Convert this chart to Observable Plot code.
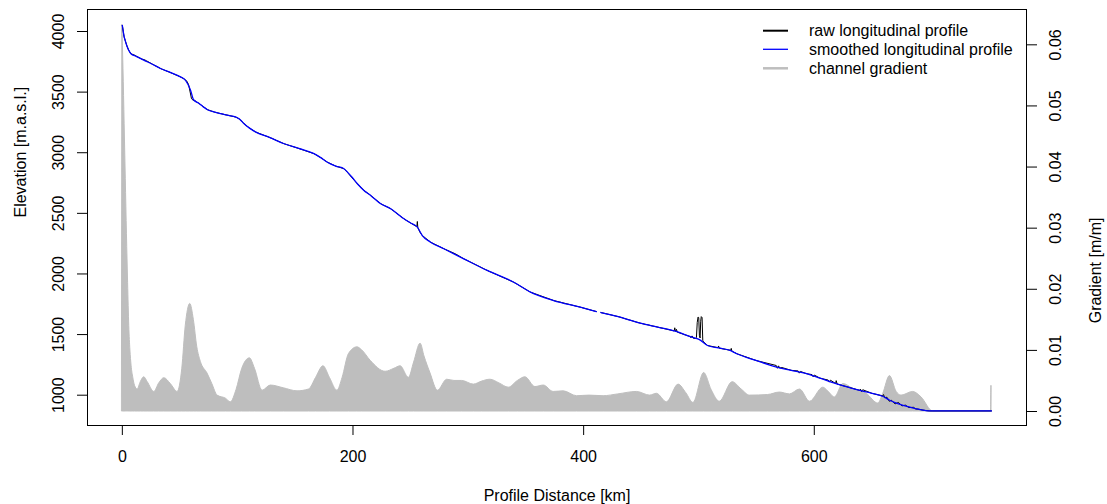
<!DOCTYPE html>
<html><head><meta charset="utf-8">
<script src="https://cdn.jsdelivr.net/npm/d3@7"></script>
<script src="https://cdn.jsdelivr.net/npm/@observablehq/plot@0.6"></script>
<style>
body{margin:0;background:#fff;font-family:"Liberation Sans",Arial,sans-serif;}
#wrap{position:relative;width:1107px;height:504px;overflow:hidden;}
#legend{position:absolute;left:0;top:0;}
</style></head><body><div id="wrap"></div>
<script>
// ---- data ----
const smoothKm   = [0,0.8,1.5,2.5,4,5.5,7.5,12,19,26,33.5,42,50.8,54,56.6,59,61.8,66,70,73.9,80,85.5,92,98.4,102,105.6,110,115.8,128,140.3,153,166.2,172,177.8,185,192.2,195.2,199,203.8,209.5,215.3,224.1,232.7,244.2,250,255.8,260.1,267.3,278.8,296.1,316.4,339.4,353.9,374,397.1,411,413,415,430,449.1,465,479.4,493.8,500,507.4,517,527,532.8,550,567.4,580,593.4,605,619.4,630,639.6,650,659.8,665,671.3,677,682.9,690,696,700.2,753.6];
const smoothElev = [4050,4000,3960,3925,3880,3845,3817,3795,3762,3730,3693,3660,3624,3605,3569,3520,3437,3410,3380,3355,3335,3322,3308,3294,3275,3239,3205,3170,3125,3074,3035,2992,2960,2922,2890,2868,2840,2800,2744,2689,2648,2579,2538,2455,2420,2386,2317,2262,2208,2125,2029,1932,1850,1781,1726,1690,NaN,1682,1648,1594,1560,1528,1479,1460,1410,1390,1369,1342,1285,1231,1205,1177,1140,1094,1065,1039,1015,989,960,934,915,901,885,874,870,870];

const rawKm   = [0,0.8,1.5,2.5,4,5.5,7.5,10,12,17,19,21,26,33.5,42,50.8,54,56,57.5,60,61.5,63,64.5,66,70,73.9,80,85.5,92,98.4,102,105.6,110,115.8,128,140.3,153,166.2,172,177.8,185,192.2,195.2,199,203.8,209.5,215.3,224.1,232.7,244.2,250,255.4,255.8,256.2,258,260.1,267.3,278.8,289,292,296.1,316.4,339.4,353.9,374,397.1,411,413,415,430,449.1,465,478.5,479,479.6,480.5,481.2,492,493,494,495,497,497.8,498.5,499.2,499.8,500.4,501,501.5,502,502.7,503.3,504,507.4,516.5,517,517.5,523,527.5,528,528.5,532.8,550,567,568,569,570,572,580,586,587,588,593.4,598,599,600,605,612,613,614,618.5,619,619.8,630,639.6,640,641,642,650,659,660,661,663,665,667,670,673,676,679,682,686,688,690,696,700.2,753.6];
const rawElev = [4050,4000,3958,3926,3880,3847,3815,3808,3797,3772,3768,3758,3731,3693,3660,3624,3606,3590,3560,3445,3432,3430,3418,3410,3381,3355,3335,3322,3308,3294,3275,3239,3205,3170,3125,3074,3035,2992,2960,2922,2890,2868,2838,2795,2744,2689,2648,2579,2538,2455,2420,2390,2433,2384,2345,2317,2262,2208,2165,2148,2125,2029,1932,1850,1781,1726,1690,NaN,1682,1648,1594,1560,1530,1556,1526,1543,1520,1485,1474,1489,1470,1468,1476,1600,1645,1640,1490,1472,1610,1648,1640,1452,1440,1410,1392,1406,1388,1378,1370,1386,1364,1342,1285,1245,1222,1242,1224,1228,1205,1200,1182,1196,1177,1170,1152,1166,1140,1125,1108,1124,1096,1120,1092,1065,1039,1050,1030,1045,1015,995,1005,980,983,950,958,928,940,912,918,898,900,886,885,874,870,870];

const gradKm  = [0,1,2,3,4,5,6,7,8,9.5,11,13.3,16,19,22,27.7,32,36.4,42,48,52,55,58.9,62,65,68.1,73.9,78,82.6,89.8,94.1,99,104,110.6,115,121.6,128.7,140,151.9,161.9,168,174.4,180,186.5,191,196.5,203.8,208,215.3,228.3,236,241.3,248.5,253,258.6,262,267.3,273.6,281.7,288,294.7,304.8,312,319.2,327,335.1,343,349.5,358.2,365.4,374,382.7,394.3,405,417.3,430,446.2,457.7,463.5,472.2,482.3,489,495.2,504.5,511,518,529.2,537,544.3,560,570.2,578.9,587.6,596.3,607.8,612,617.9,625.2,633.8,645.4,655.5,659.8,665.6,671.4,675.6,685.7,693,703,753.2,753.6];
const gradVal = [0.0632,0.056,0.047,0.038,0.029,0.021,0.014,0.010,0.0075,0.0055,0.0042,0.0036,0.0048,0.0056,0.0048,0.0032,0.0046,0.00545,0.0045,0.0032,0.0070,0.0140,0.0176,0.0150,0.0105,0.0081,0.0062,0.0045,0.0026,0.0021,0.0015,0.0035,0.0070,0.0087,0.0070,0.0034,0.00425,0.0038,0.0033,0.0036,0.0055,0.0074,0.0055,0.0034,0.0055,0.0094,0.0105,0.0100,0.0083,0.0065,0.0070,0.0074,0.0055,0.0080,0.0111,0.0090,0.0062,0.0034,0.0052,0.0050,0.0050,0.0044,0.0049,0.0052,0.0046,0.0039,0.0050,0.0056,0.0040,0.00425,0.0032,0.0033,0.0025,0.0026,0.0025,0.0028,0.0032,0.0026,0.0029,0.0015,0.0044,0.0030,0.0014,0.0063,0.0035,0.0016,0.0048,0.0036,0.0026,0.0027,0.0031,0.0028,0.0036,0.0016,0.0039,0.0033,0.0023,0.0045,0.0037,0.0029,0.0013,0.0029,0.0058,0.0032,0.0026,0.0032,0.0023,0,0,0.0042];

const xTicks = [0,200,400,600];
const elevTicks = [1000,1500,2000,2500,3000,3500,4000];
const gradTicks = [0,0.01,0.02,0.03,0.04,0.05,0.06];

const legendLabels = ["raw longitudinal profile","smoothed longitudinal profile","channel gradient"];
const legendColors = ["#000000","#0000ff","#bebebe"];
const legendWidths = [2,1.3,2.5];

// ---- scales ----
const xDomain = [-30.2, 784];
const elevDomain = [750, 4181.5];
const gradDomain = [-0.00229, 0.06578];
const g2e = d3.scaleLinear().domain(gradDomain).range(elevDomain);

const smooth = smoothKm.map((k,i)=>({km:k, elev:smoothElev[i]}));
const raw = rawKm.map((k,i)=>({km:k, elev:rawElev[i]}));
const grad = gradKm.map((k,i)=>({km:k, g:gradVal[i]}));

const FS = 16;
const chart = Plot.plot({
  width: 1107, height: 504,
  marginLeft: 87, marginRight: 81, marginTop: 9, marginBottom: 79,
  style: {fontFamily: '"Liberation Sans", Arial, sans-serif', fontSize: FS+"px", background: "#fff", color: "#000"},
  x: {domain: xDomain},
  y: {domain: elevDomain},
  marks: [
    Plot.areaY(grad, {x: "km", y1: () => g2e(0), y2: d => g2e(d.g), fill: "#bebebe", stroke: "#bebebe", strokeWidth: 1, curve: "monotone-x"}),
    Plot.line(raw, {x: "km", y: "elev", stroke: "#000", strokeWidth: 1}),
    Plot.line(smooth, {x: "km", y: "elev", stroke: "#0000ff", strokeWidth: 1.3, curve: "monotone-x"}),
    Plot.frame({stroke: "#000", strokeWidth: 1}),
    Plot.axisX({ticks: xTicks, tickSize: 10, tickPadding: 15, fontSize: FS, label: null, tickFormat: d => String(d)}),
    Plot.axisY({anchor: "left", ticks: elevTicks, tickSize: 10, tickFormat: () => "", label: null}),
    Plot.axisY({anchor: "right", ticks: gradTicks.map(g => g2e(g)), tickSize: 10, tickFormat: () => "", label: null}),
    Plot.text(elevTicks, {y: d => d, text: d => String(d), frameAnchor: "left", dx: -29, rotate: -90, textAnchor: "middle", lineAnchor: "middle", fontSize: FS, fill: "#000"}),
    Plot.text(gradTicks, {y: d => g2e(d), text: d => d.toFixed(2), frameAnchor: "right", dx: 29, rotate: -90, textAnchor: "middle", lineAnchor: "middle", fontSize: FS, fill: "#000"}),
    Plot.text(["Profile Distance [km]"], {frameAnchor: "bottom", dy: 70, text: d => d, fontSize: FS, lineAnchor: "middle", fill: "#000"}),
    Plot.text(["Elevation [m.a.s.l.]"], {frameAnchor: "left", dx: -67, rotate: -90, text: d => d, fontSize: FS, lineAnchor: "middle", fill: "#000"}),
    Plot.text(["Gradient [m/m]"], {frameAnchor: "right", dx: 69, rotate: -90, text: d => d, fontSize: FS, lineAnchor: "middle", fill: "#000"})
  ]
});
const wrap = document.getElementById("wrap");
wrap.appendChild(chart);

// ---- legend (inside plot, top-right, no box) ----
const ns = "http://www.w3.org/2000/svg";
const lg = document.createElementNS(ns, "svg");
lg.setAttribute("id","legend");
lg.setAttribute("width","1107"); lg.setAttribute("height","100");
const rowY = [30.7, 49.3, 68.3];
legendLabels.forEach((lab,i)=>{
  const l = document.createElementNS(ns,"line");
  l.setAttribute("x1",763); l.setAttribute("x2",788);
  l.setAttribute("y1",rowY[i]); l.setAttribute("y2",rowY[i]);
  l.setAttribute("stroke",legendColors[i]); l.setAttribute("stroke-width",legendWidths[i]);
  lg.appendChild(l);
  const t = document.createElementNS(ns,"text");
  t.setAttribute("x",809); t.setAttribute("y",rowY[i]);
  t.setAttribute("dy","0.35em");
  t.setAttribute("font-size",FS); t.setAttribute("font-family",'"Liberation Sans", Arial, sans-serif');
  t.setAttribute("fill","#000");
  t.textContent = lab;
  lg.appendChild(t);
});
wrap.appendChild(lg);
</script></body></html>
